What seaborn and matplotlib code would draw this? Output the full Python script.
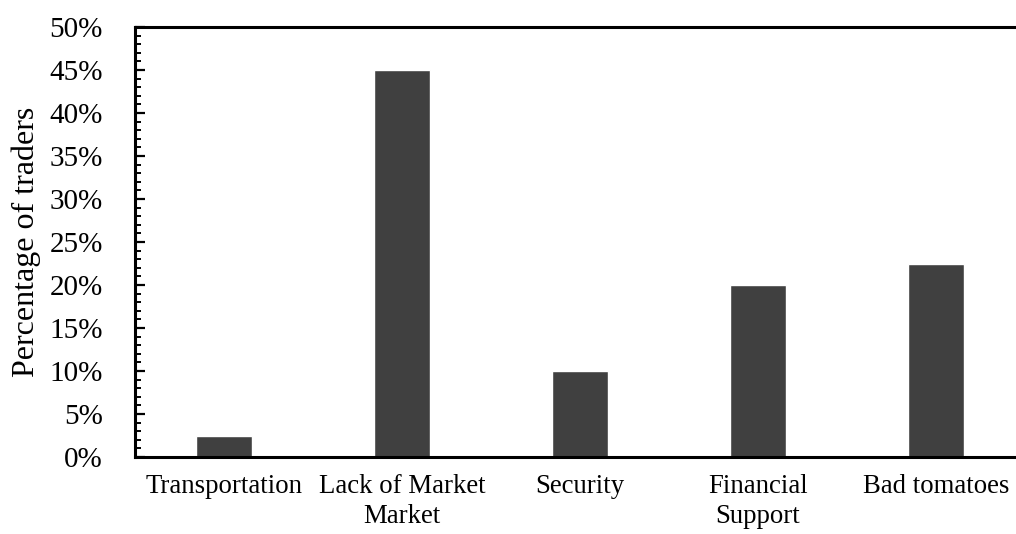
import matplotlib
matplotlib.use("Agg")
import matplotlib.pyplot as plt
from matplotlib.ticker import MultipleLocator, PercentFormatter
import seaborn as sns
import pandas as pd

categories = ["Transportation", "Lack of Market\nMarket", "Security",
              "Financial\nSupport", "Bad tomatoes"]
percent_traders = [2.5, 45.0, 10.0, 20.0, 22.5]

sns.set_theme(style="white")
plt.rcParams["font.family"] = ["Liberation Serif", "DejaVu Serif"]

df = pd.DataFrame({"category": categories, "pct": percent_traders})

fig = plt.figure(figsize=(10.16, 5.34), dpi=100)
ax = fig.add_axes([135 / 1016, 1 - 457 / 534, 890 / 1016, 430 / 534])

sns.barplot(data=df, x="category", y="pct", color="#404040", saturation=1,
            width=0.31, ax=ax)

ax.set_xlim(-0.5, 4.5)
ax.set_ylim(0, 50)
ax.yaxis.set_major_locator(MultipleLocator(5))
ax.yaxis.set_minor_locator(MultipleLocator(1))
ax.yaxis.set_major_formatter(PercentFormatter(decimals=0))

ax.tick_params(axis="y", which="major", direction="in", length=7, width=1.6,
               labelsize=21, pad=23, left=True, color="black")
ax.tick_params(axis="y", which="minor", direction="in", length=4.5, width=1.4,
               left=True, color="black")
ax.tick_params(axis="x", which="major", direction="in", length=5, width=1.4,
               labelsize=19.3, pad=12, bottom=True, color="black")

for side in ["left", "bottom", "top"]:
    ax.spines[side].set_visible(True)
    ax.spines[side].set_color("black")
    ax.spines[side].set_linewidth(2.2)
ax.spines["right"].set_visible(False)

ax.set_xlabel("")
ax.set_ylabel("Percentage of traders", fontsize=23, labelpad=6.5, color="black")
for t in ax.get_yticklabels():
    t.set_color("black")
for t in ax.get_xticklabels():
    t.set_color("black")
    t.set_linespacing(1.28)

fig.savefig("out.png", dpi=100, facecolor="white")
